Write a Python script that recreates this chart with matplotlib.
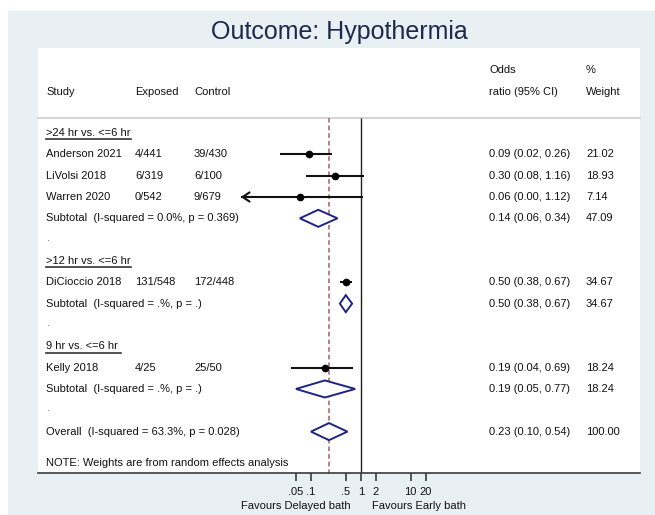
import matplotlib
matplotlib.use("Agg")
import matplotlib.pyplot as plt
from matplotlib.patches import Rectangle, Polygon
import matplotlib.transforms as mtransforms

plt.rcParams['font.family'] = ['Liberation Sans', 'DejaVu Sans']

# ---------------- data ----------------
title = "Outcome: Hypothermia"
studies = ["Anderson 2021", "LiVolsi 2018", "Warren 2020", "DiCioccio 2018", "Kelly 2018"]
exposed = ["4/441", "6/319", "0/542", "131/548", "4/25"]
control = ["39/430", "6/100", "9/679", "172/448", "25/50"]
odds = [0.09, 0.30, 0.06, 0.50, 0.19]
ci_low = [0.024, 0.08, 0.003, 0.38, 0.04]
ci_high = [0.26, 1.16, 1.12, 0.67, 0.69]
weights = [21.02, 18.93, 7.14, 34.67, 18.24]
study_group = [0, 0, 0, 1, 2]

groups = [">24 hr vs. <=6 hr", ">12 hr vs. <=6 hr", "9 hr vs. <=6 hr "]
sub_labels = ["Subtotal  (I-squared = 0.0%, p = 0.369)",
              "Subtotal  (I-squared = .%, p = .)",
              "Subtotal  (I-squared = .%, p = .)"]
sub_or = [0.14, 0.50, 0.19]
sub_low = [0.06, 0.38, 0.05]
sub_high = [0.34, 0.67, 0.77]
sub_w = [47.09, 34.67, 18.24]

overall_label = "Overall  (I-squared = 63.3%, p = 0.028)"
overall_or, overall_low, overall_high, overall_w = 0.23, 0.10, 0.54, 100.00

note = "NOTE: Weights are from random effects analysis"
tick_vals = [0.05, 0.1, 0.5, 1, 2, 10, 20]
tick_labels = [".05", ".1", ".5", "1", "2", "10", "20"]
xlab_left = "Favours Delayed bath"
xlab_right = "Favours Early bath"
x_floor = 0.0039  # lower display limit (arrow)

# ---------------- layout ----------------
W, H = 655, 515
fig = plt.figure(figsize=(W / 100, H / 100), dpi=100)
fig.patch.set_facecolor("white")

bg = "#e9f0f3"
fig.patches.append(Rectangle((8 / W, 0), 1 - 8 / W, 1 - 11 / H, transform=fig.transFigure,
                             facecolor=bg, edgecolor="none", zorder=0))

L, R, T, B = 37.7, 640, 48, 473
ax = fig.add_axes([L / W, 1 - B / H, (R - L) / W, (B - T) / H])
ax.set_facecolor("white")
ax.set_zorder(1)

ppd = 49.85  # pixels per decade
x1 = 360.8
ax.set_xscale("log")
ax.set_xlim(10 ** ((L - x1) / ppd), 10 ** ((R - x1) / ppd))

row0, rs = 133.0, 21.33
def rowy(px):
    return (px - row0) / rs
ax.set_ylim(rowy(B), rowy(T))

for s in ["top", "left", "right"]:
    ax.spines[s].set_visible(False)
ax.spines["bottom"].set_color("#3a3a3a")
ax.spines["bottom"].set_linewidth(1.2)
ax.set_yticks([])
ax.set_xticks(tick_vals)
ax.set_xticklabels(tick_labels)
ax.xaxis.set_minor_locator(matplotlib.ticker.NullLocator())
ax.tick_params(axis="x", direction="out", length=6, width=1.2, color="#3a3a3a",
               labelsize=8, pad=4, labelcolor="#111111")

tr = mtransforms.blended_transform_factory(ax.transAxes, ax.transData)
def col(px):
    return (px - L) / (R - L)

fs = 8
tc = "#111111"
def txt(px, y, s, **kw):
    return ax.text(col(px), y, s, transform=tr, fontsize=fs, color=tc, va="center", ha="left", **kw)

# header
txt(46, rowy(92), "Study")
txt(135, rowy(92), "Exposed")
txt(194, rowy(92), "Control")
txt(489, rowy(70), "Odds")
txt(489, rowy(92), "ratio (95% CI)")
txt(586, rowy(70), "%")
txt(586, rowy(92), "Weight")
sep_y = rowy(117.7)
ax.plot([0, 1], [sep_y, sep_y], transform=tr, color="#cccccc", lw=1.2, clip_on=False)

# reference lines
ybot = rowy(B)
ax.vlines(1, sep_y, ybot, color="#222222", lw=1.0, zorder=2)
ax.vlines(overall_or, sep_y, ybot, color="#a06060", lw=1.1, linestyles=(0, (3, 2)), zorder=2)

diam_c = "#1e2580"
def diamond(y, est, lo, hi):
    hh = 0.4
    ax.add_patch(Polygon([[lo, y], [est, y - hh], [hi, y], [est, y + hh]], closed=True,
                         facecolor="white", edgecolor=diam_c, lw=1.4, zorder=4))

def fmt(e, lo, hi):
    return f"{e:.2f} ({lo:.2f}, {hi:.2f})"

heading_texts = []
row = 0
for g in range(len(groups)):
    t = txt(46, row, groups[g])
    heading_texts.append((t, row))
    row += 1
    for i in range(len(studies)):
        if study_group[i] != g:
            continue
        txt(46, row, studies[i])
        txt(135, row, exposed[i])
        txt(194, row, control[i])
        txt(489, row, fmt(odds[i], ci_low[i], ci_high[i]))
        txt(586, row, f"{weights[i]:.2f}")
        if ci_low[i] < x_floor:
            ax.plot([x_floor, ci_high[i]], [row, row], color="#111111", lw=1.5, zorder=3,
                    solid_capstyle="butt")
            ax.annotate("", xy=(x_floor, row), xytext=(x_floor * 1.6, row),
                        arrowprops=dict(arrowstyle="->,head_length=0.5,head_width=0.33",
                                        color="#111111", lw=1.5, shrinkA=0, shrinkB=0),
                        zorder=3)
        else:
            ax.plot([ci_low[i], ci_high[i]], [row, row], color="#111111", lw=1.5, zorder=3,
                    solid_capstyle="butt")
        ax.plot([odds[i]], [row], "o", color="#000000", ms=4.5, zorder=5)
        row += 1
    txt(46, row, sub_labels[g])
    txt(489, row, fmt(sub_or[g], sub_low[g], sub_high[g]))
    txt(586, row, f"{sub_w[g]:.2f}")
    diamond(row, sub_or[g], sub_low[g], sub_high[g])
    row += 1
    txt(47, row - 0.1, ".", alpha=0.6)
    row += 1

# overall
txt(46, row, overall_label)
txt(489, row, fmt(overall_or, overall_low, overall_high))
txt(586, row, f"{overall_w:.2f}")
diamond(row, overall_or, overall_low, overall_high)

txt(46, rowy(463), note)

# titles / labels
fig.text(339 / W, 1 - 32 / H, title, fontsize=18, color="#1c2a4e", ha="center", va="center")
fig.text(296 / W, 1 - 506 / H, xlab_left, fontsize=fs, color=tc, ha="center", va="center")
fig.text(419 / W, 1 - 506 / H, xlab_right, fontsize=fs, color=tc, ha="center", va="center")

# underline group headings
fig.canvas.draw()
rend = fig.canvas.get_renderer()
for t, r in heading_texts:
    bb = t.get_window_extent(rend)
    x0 = (bb.x0 - ax.bbox.x0) / ax.bbox.width
    x1f = (bb.x1 - ax.bbox.x0) / ax.bbox.width
    yu = r + 0.3
    ax.plot([x0, x1f], [yu, yu], transform=tr, color="#333333", lw=1.2, clip_on=False)

fig.savefig("out.png", dpi=100, facecolor=fig.get_facecolor())
